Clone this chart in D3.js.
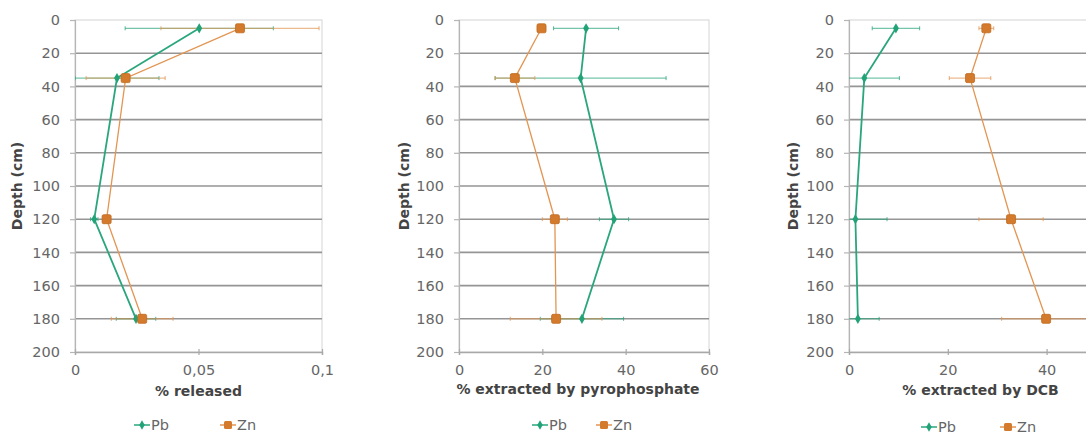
<!DOCTYPE html>
<html><head><meta charset="utf-8">
<script src="https://cdn.jsdelivr.net/npm/d3@7"></script>
<style>
html,body{margin:0;padding:0;background:#fff;}
svg{display:block;font-family:"DejaVu Sans",sans-serif;}
</style></head>
<body>
<svg id="chart" width="1086" height="435"></svg>
<script>
// ---- data ----
const depths = [5, 35, 120, 180];
const depthTicks = [0, 20, 40, 60, 80, 100, 120, 140, 160, 180, 200];
const seriesNames = ["Pb", "Zn"];

const releasedPb = [0.0503, 0.0170, 0.0078, 0.0247];
const releasedPbErr = [0.030, 0.017, 0.0015, 0.008];
const releasedZn = [0.0668, 0.0205, 0.0128, 0.0272];
const releasedZnErr = [0.032, 0.016, 0.0015, 0.0125];

const pyroPb = [30.5, 29.2, 37.2, 29.5];
const pyroPbErr = [7.8, 20.5, 3.5, 10];
const pyroZn = [19.8, 13.4, 23.0, 23.3];
const pyroZnErr = [1, 4.8, 3, 11];

const dcbPb = [9.5, 3.1, 1.3, 1.8];
const dcbPbErr = [4.8, 7.1, 6.4, 4.3];
const dcbZn = [27.8, 24.5, 32.8, 39.9];
const dcbZnErr = [1.5, 4.2, 6.5, 9];

const releasedTicks = [0, 0.05, 0.1];
const releasedTickLabels = ["0", "0,05", "0,1"];
const pyroTicks = [0, 20, 40, 60];
const pyroTickLabels = ["0", "20", "40", "60"];
const dcbTicks = [0, 20, 40];
const dcbTickLabels = ["0", "20", "40"];

const xTitles = ["% released", "% extracted by pyrophosphate", "% extracted by DCB"];
const yTitle = "Depth (cm)";

// ---- layout / style ----
const colors = {Pb: "#22a277", Zn: "#d47a2c"};
const lineColors = {Pb: "#2aa67c", Zn: "#e39552"};
const plotTop = 20, plotBottom = 352;

const panels = [
  {left: 75, width: 247, domain: [0, 0.1], ticks: releasedTicks, labels: releasedTickLabels,
   pb: releasedPb, pbErr: releasedPbErr, zn: releasedZn, znErr: releasedZnErr,
   title: xTitles[0], titleY: 396, titleDx: 0, yTitleX: 17, legX: [142, 228], legY: 425},
  {left: 459, width: 250, domain: [0, 60], ticks: pyroTicks, labels: pyroTickLabels,
   pb: pyroPb, pbErr: pyroPbErr, zn: pyroZn, znErr: pyroZnErr,
   title: xTitles[1], titleY: 394, titleDx: -6, yTitleX: 404, legX: [540, 604], legY: 425},
  {left: 849, width: 247, domain: [0, 50], ticks: dcbTicks, labels: dcbTickLabels,
   pb: dcbPb, pbErr: dcbPbErr, zn: dcbZn, znErr: dcbZnErr,
   title: xTitles[2], titleY: 395, titleDx: 8, yTitleX: 793, legX: [929, 1008], legY: 427}
];

const svg = d3.select("#chart");
const y = d3.scaleLinear().domain([0, 200]).range([plotTop, plotBottom]);

panels.forEach((p, pi) => {
  const x = d3.scaleLinear().domain(p.domain).range([p.left, p.left + p.width]);
  const g = svg.append("g");
  const clipId = "clip" + pi;
  svg.append("clipPath").attr("id", clipId).append("rect")
    .attr("x", p.left).attr("y", plotTop - 6).attr("width", p.width + 6).attr("height", plotBottom - plotTop + 12);

  // plot border
  g.append("rect").attr("x", p.left).attr("y", plotTop).attr("width", p.width).attr("height", plotBottom - plotTop)
    .attr("fill", "none").attr("stroke", "#d4d4d4").attr("stroke-width", 1);

  // gridlines
  g.selectAll(".grid").data(depthTicks.filter(d => d > 0 && d < 200)).join("line")
    .attr("x1", p.left).attr("x2", p.left + p.width)
    .attr("y1", d => y(d)).attr("y2", d => y(d))
    .attr("stroke", "#959595").attr("stroke-width", 1.6);

  // y axis
  const yAxis = d3.axisLeft(y).tickValues(depthTicks).tickSize(5).tickPadding(10);
  const ya = g.append("g").attr("transform", `translate(${p.left},0)`).call(yAxis);
  ya.select(".domain").attr("stroke", "#b5b5b5").attr("stroke-width", 1.2);
  ya.selectAll(".tick line").attr("stroke", "#b5b5b5").attr("stroke-width", 1.2);
  ya.selectAll(".tick text").attr("font-family", "DejaVu Sans").attr("font-size", 14.5).attr("fill", "#666");

  // x axis
  const xAxis = d3.axisBottom(x).tickValues(p.ticks).tickFormat((d, i) => p.labels[i]).tickSize(3).tickPadding(10);
  const xa = g.append("g").attr("transform", `translate(0,${plotBottom})`).call(xAxis);
  xa.select(".domain").attr("stroke", "#a8a8a8").attr("stroke-width", 1.4);
  xa.selectAll(".tick line").attr("y1", -3).attr("stroke", "#a8a8a8").attr("stroke-width", 1.2);
  xa.selectAll(".tick text").attr("font-family", "DejaVu Sans").attr("font-size", 14.5).attr("fill", "#666");

  // titles
  g.append("text").attr("x", p.left + p.width / 2 + p.titleDx).attr("y", p.titleY)
    .attr("text-anchor", "middle").attr("font-weight", "bold").attr("font-size", 14).attr("fill", "#444")
    .text(p.title);
  g.append("text").attr("transform", `translate(${p.yTitleX},${(plotTop + plotBottom) / 2}) rotate(-90)`)
    .attr("text-anchor", "middle").attr("dy", "0.35em").attr("font-weight", "bold").attr("font-size", 14).attr("fill", "#444")
    .text(yTitle);

  const series = [
    {name: "Pb", vals: p.pb, err: p.pbErr},
    {name: "Zn", vals: p.zn, err: p.znErr}
  ];
  const plot = g.append("g").attr("clip-path", `url(#${clipId})`);
  const line = d3.line().x(d => x(d[0])).y(d => y(d[1]));

  // error bars
  series.forEach(s => {
    const eg = plot.append("g");
    s.vals.forEach((v, i) => {
      const x0 = x(Math.max(p.domain[0], v - s.err[i])), x1 = x(v + s.err[i]);
      const yy = y(depths[i]);
      eg.append("line").attr("x1", x0).attr("x2", x1).attr("y1", yy).attr("y2", yy)
        .attr("stroke", lineColors[s.name]).attr("stroke-width", 1).attr("opacity", 0.8);
      [v - s.err[i], v + s.err[i]].forEach(e => {
        if (e >= p.domain[0]) {
          eg.append("line").attr("x1", x(e)).attr("x2", x(e)).attr("y1", yy - 2).attr("y2", yy + 2)
            .attr("stroke", lineColors[s.name]).attr("stroke-width", 1).attr("opacity", 0.8);
        }
      });
    });
  });

  // lines and markers
  series.forEach(s => {
    const pts = s.vals.map((v, i) => [v, depths[i]]);
    plot.append("path").datum(pts).attr("d", line).attr("fill", "none")
      .attr("stroke", lineColors[s.name]).attr("stroke-width", s.name === "Pb" ? 1.8 : 1.3);
    if (s.name === "Pb") {
      plot.selectAll(null).data(pts).join("path")
        .attr("d", d3.symbol(d3.symbolDiamond, 30))
        .attr("transform", d => `translate(${x(d[0])},${y(d[1])})`)
        .attr("fill", colors.Pb);
    } else {
      plot.selectAll(null).data(pts).join("rect")
        .attr("x", d => x(d[0]) - 4.5).attr("y", d => y(d[1]) - 4.5)
        .attr("width", 9).attr("height", 9).attr("rx", 1.5)
        .attr("fill", colors.Zn).attr("stroke", "#c06a20").attr("stroke-width", 0.8);
    }
  });

  // legend
  seriesNames.forEach((name, k) => {
    const cx = p.legX[k], cy = p.legY;
    const lg = g.append("g");
    lg.append("line").attr("x1", cx - 8).attr("x2", cx + 8).attr("y1", cy).attr("y2", cy)
      .attr("stroke", lineColors[name]).attr("stroke-width", 1.5);
    if (name === "Pb") {
      lg.append("path").attr("d", d3.symbol(d3.symbolDiamond, 26)())
        .attr("transform", `translate(${cx},${cy})`).attr("fill", colors.Pb);
    } else {
      lg.append("rect").attr("x", cx - 4).attr("y", cy - 4).attr("width", 8).attr("height", 8).attr("rx", 1.5)
        .attr("fill", colors.Zn);
    }
    lg.append("text").attr("x", cx + 9).attr("y", cy).attr("dy", "0.36em")
      .attr("font-size", 14.5).attr("fill", "#666").text(name);
  });
});
</script>
</body></html>
